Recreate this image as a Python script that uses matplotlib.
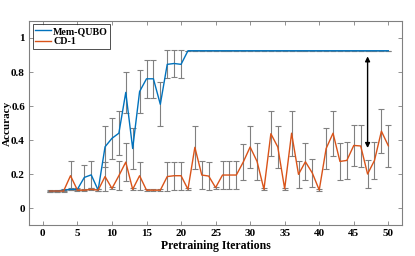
import matplotlib
matplotlib.use("Agg")
import matplotlib.pyplot as plt
import numpy as np

plt.rcParams['font.family'] = ['Liberation Serif', 'DejaVu Serif']
plt.rcParams['font.weight'] = 'bold'

iters = np.arange(1, 51)

mem_qubo = [0.10, 0.10, 0.105, 0.11, 0.11, 0.18, 0.195, 0.105, 0.36, 0.41,
            0.44, 0.68, 0.35, 0.685, 0.76, 0.76, 0.61, 0.845, 0.85, 0.845] + [0.925] * 30
mem_qubo_err = [0.003, 0.003, 0.004, 0.005, 0.005, 0.075, 0.08, 0.005, 0.12, 0.12,
                0.13, 0.12, 0.12, 0.125, 0.11, 0.11, 0.13, 0.083, 0.08, 0.083] + [0.0] * 30

cd1 = [0.10, 0.10, 0.10, 0.19, 0.105, 0.105, 0.11, 0.105, 0.185, 0.115,
       0.19, 0.27, 0.11, 0.19, 0.105, 0.105, 0.105, 0.185, 0.19, 0.19,
       0.11, 0.357, 0.194, 0.188, 0.12, 0.194, 0.194, 0.194, 0.27, 0.359,
       0.274, 0.11, 0.437, 0.359, 0.113, 0.44, 0.198, 0.272, 0.206, 0.106,
       0.35, 0.44, 0.274, 0.28, 0.368, 0.365, 0.2, 0.28, 0.452, 0.366]
cd1_err = [0.004, 0.004, 0.004, 0.085, 0.005, 0.005, 0.005, 0.005, 0.085, 0.006,
           0.085, 0.11, 0.005, 0.083, 0.005, 0.005, 0.005, 0.083, 0.083, 0.083,
           0.005, 0.125, 0.081, 0.082, 0.006, 0.081, 0.081, 0.081, 0.108, 0.124,
           0.11, 0.005, 0.133, 0.125, 0.005, 0.133, 0.08, 0.108, 0.083, 0.005,
           0.123, 0.132, 0.108, 0.107, 0.122, 0.122, 0.08, 0.107, 0.13, 0.122]

blue = (0.0, 0.447, 0.741)
orange = (0.85, 0.325, 0.098)
gray = (0.5, 0.5, 0.5)

fig = plt.figure(figsize=(4.15, 2.56), dpi=100)
ax = fig.add_axes([0.070, 0.121, 0.899, 0.797])

ax.errorbar(iters, mem_qubo, yerr=mem_qubo_err, fmt='none', ecolor=gray,
            elinewidth=0.8, capsize=2.2, capthick=0.8)
ax.errorbar(iters, cd1, yerr=cd1_err, fmt='none', ecolor=gray,
            elinewidth=0.8, capsize=2.2, capthick=0.8)
ax.plot(iters, mem_qubo, color=blue, lw=1.0, label='Mem-QUBO')
ax.plot(iters, cd1, color=orange, lw=1.0, label='CD-1')

ax.annotate('', xy=(47, 0.892), xytext=(47, 0.353),
            arrowprops=dict(arrowstyle='<|-|>', color='black', lw=1.0,
                            mutation_scale=7, shrinkA=0, shrinkB=0))

ax.set_xlim(-2, 52)
ax.set_ylim(-0.1, 1.1)
ax.set_xticks(np.arange(0, 51, 5))
ax.set_yticks([0, 0.2, 0.4, 0.6, 0.8, 1])
ax.set_yticklabels(['0', '0.2', '0.4', '0.6', '0.8', '1'])
ax.tick_params(direction='in', length=3, width=0.6, color=gray, labelsize=8,
               top=True, right=True, pad=3)
for s in ax.spines.values():
    s.set_color(gray)
    s.set_linewidth(0.8)

ax.set_xlabel('Pretraining Iterations', fontsize=8.5, fontweight='bold', labelpad=1)
ax.set_ylabel('Accuracy', fontsize=8, fontweight='bold')
ax.yaxis.set_label_coords(-0.046, 0.5)

leg = ax.legend(loc='upper left', fontsize=7.2, frameon=True, fancybox=False,
                edgecolor='black', handlelength=1.6, handletextpad=0.2,
                borderpad=0.25, labelspacing=0.15, borderaxespad=0.35)
leg.get_frame().set_linewidth(0.6)

fig.savefig('out.png', dpi=100)
